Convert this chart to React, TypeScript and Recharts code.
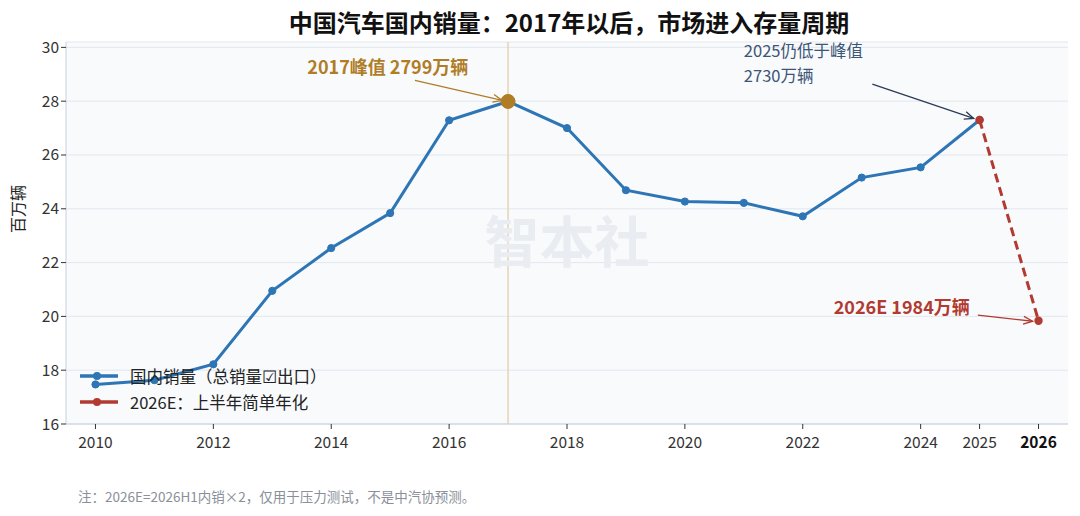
import React from 'react';
import {
  LineChart,
  Line,
  XAxis,
  YAxis,
  CartesianGrid,
  ReferenceLine,
  ReferenceDot,
} from 'recharts';

const years = [2010, 2011, 2012, 2013, 2014, 2015, 2016, 2017, 2018, 2019, 2020, 2021, 2022, 2023, 2024, 2025];
const domesticSales = [17.47, 17.63, 18.22, 20.95, 22.54, 23.84, 27.29, 27.99, 27.0, 24.69, 24.27, 24.22, 23.72, 25.16, 25.54, 27.3];
const estYears = [2025, 2026];
const estSales = [27.3, 19.84];
const peakYear = 2017;
const xTicks = [2010, 2012, 2014, 2016, 2018, 2020, 2022, 2024, 2025, 2026];
const yTicks = [16, 18, 20, 22, 24, 26, 28, 30];

const BLUE = '#2e75b6';
const RED = '#b23a30';
const GOLD = '#b07d26';
const SLATE = '#3d5577';
const FONT = '"Noto Sans CJK SC", "Noto Sans", sans-serif';

const data = [...years, 2026].map((y) => {
  const i = years.indexOf(y);
  const j = estYears.indexOf(y);
  return {
    year: y,
    sales: i >= 0 ? domesticSales[i] : null,
    est: j >= 0 ? estSales[j] : null,
  };
});

// open "->" arrow drawn between two data points
function arrowShape(color: string) {
  return (p: any) => {
    const { x1, y1, x2, y2 } = p;
    const a = Math.atan2(y2 - y1, x2 - x1);
    const L = 10;
    const s = 0.4;
    const ax1 = x2 - L * Math.cos(a - s);
    const ay1 = y2 - L * Math.sin(a - s);
    const ax2 = x2 - L * Math.cos(a + s);
    const ay2 = y2 - L * Math.sin(a + s);
    return (
      <g>
        <line x1={x1} y1={y1} x2={x2} y2={y2} stroke={color} strokeWidth={1.3} />
        <polyline points={`${ax1},${ay1} ${x2},${y2} ${ax2},${ay2}`} fill="none" stroke={color} strokeWidth={1.3} />
      </g>
    );
  };
}

function textShape(lines: string[], color: string, opts: any) {
  return (p: any) => (
    <text
      x={p.cx}
      y={p.cy}
      fill={color}
      fontSize={opts.size}
      fontWeight={opts.weight}
      textAnchor={opts.anchor}
      dominantBaseline="central"
      fontFamily={FONT}
    >
      {lines.map((l, k) => (
        <tspan key={k} x={p.cx} dy={k === 0 ? 0 : opts.lh}>
          {l}
        </tspan>
      ))}
    </text>
  );
}

function SalesDot(props: any) {
  const { cx, cy, payload } = props;
  if (cx == null || cy == null) return null;
  if (payload.year === peakYear) {
    return <circle cx={cx} cy={cy} r={7} fill={GOLD} stroke={GOLD} />;
  }
  return <circle cx={cx} cy={cy} r={3.6} fill={BLUE} stroke={BLUE} />;
}

function EstDot(props: any) {
  const { cx, cy } = props;
  if (cx == null || cy == null) return null;
  return <circle cx={cx} cy={cy} r={4.2} fill={RED} stroke="none" />;
}

function XTick(props: any) {
  const { x, y, payload } = props;
  const last = payload.value === 2026;
  return (
    <text x={x} y={y + 17} textAnchor="middle" fontSize={15.5} fill={last ? '#111' : '#333'} fontWeight={last ? 600 : 400} fontFamily={FONT}>
      {payload.value}
    </text>
  );
}

function LegendBox() {
  const items = [
    { color: BLUE, label: '国内销量（总销量☑出口）' },
    { color: RED, label: '2026E：上半年简单年化' },
  ];
  return (
    <div style={{ fontFamily: FONT, fontSize: 16.5, color: '#222' }}>
      {items.map((it) => (
        <div key={it.label} style={{ display: 'flex', alignItems: 'center', height: 26 }}>
          <svg width={42} height={12} style={{ marginRight: 10 }}>
            <line x1={2} y1={6} x2={40} y2={6} stroke={it.color} strokeWidth={3.5} />
            <circle cx={19} cy={6} r={4} fill={it.color} />
          </svg>
          <span>{it.label}</span>
        </div>
      ))}
    </div>
  );
}

export default function App() {
  return (
    <div style={{ position: 'absolute', left: 0, top: 0, width: 1080, height: 516, background: '#fff', fontFamily: FONT }}>
      <div style={{ position: 'absolute', left: 69, width: 1000, top: 4, textAlign: 'center', fontSize: 24, fontWeight: 700, color: '#111' }}>
        中国汽车国内销量：2017年以后，市场进入存量周期
      </div>
      <LineChart width={1080} height={516} data={data} margin={{ top: 42, right: 12, left: 0, bottom: 62 }}>
        <CartesianGrid vertical={false} stroke="#e2e7ef" strokeWidth={1} fill="#f8fafc" />
        <XAxis
          dataKey="year"
          type="number"
          domain={[2009.5, 2026.5]}
          ticks={xTicks}
          tick={<XTick />}
          stroke="#c6cfdc"
          tickLine={{ stroke: '#333' }}
          tickSize={5}
          height={30}
          allowDataOverflow
        />
        <YAxis
          domain={[16, 30.2]}
          ticks={yTicks}
          width={66}
          stroke="#c6cfdc"
          tickLine={{ stroke: '#333' }}
          tickSize={5}
          tick={{ fontSize: 15.5, fill: '#333', fontFamily: FONT }}
          allowDataOverflow
          label={{ value: '百万辆', angle: -90, position: 'insideLeft', offset: 18, style: { fontSize: 16, fill: '#222', fontFamily: FONT } }}
        />
        <ReferenceDot x={2018} y={22.9} r={0} shape={textShape(['智本社'], '#e9ecf1', { size: 55, weight: 700, anchor: 'middle' })} />
        <ReferenceLine x={peakYear} stroke="#e6d3b3" strokeWidth={1.5} />
        <Line
          dataKey="sales"
          stroke={BLUE}
          strokeWidth={3}
          dot={<SalesDot />}
          isAnimationActive={false}
          connectNulls={false}
        />
        <Line
          dataKey="est"
          stroke={RED}
          strokeWidth={3}
          strokeDasharray="9 5"
          dot={<EstDot />}
          isAnimationActive={false}
        />
        <ReferenceLine segment={[{ x: 2015.42, y: 28.77 }, { x: 2016.9, y: 28.03 }]} shape={arrowShape(GOLD)} />
        <ReferenceDot x={2014.96} y={29.29} r={0} shape={textShape(['2017峰值 2799万辆'], GOLD, { size: 18, weight: 700, anchor: 'middle' })} />
        <ReferenceLine segment={[{ x: 2023.18, y: 28.63 }, { x: 2024.9, y: 27.36 }]} shape={arrowShape('#2a3b55')} />
        <ReferenceDot x={2021.0} y={29.92} r={0} shape={textShape(['2025仍低于峰值', '2730万辆'], SLATE, { size: 16.5, weight: 400, anchor: 'start', lh: 25 })} />
        <ReferenceLine segment={[{ x: 2024.97, y: 20.05 }, { x: 2025.9, y: 19.82 }]} shape={arrowShape(RED)} />
        <ReferenceDot x={2023.68} y={20.38} r={0} shape={textShape(['2026E 1984万辆'], RED, { size: 18, weight: 700, anchor: 'middle' })} />
      </LineChart>
      <div style={{ position: 'absolute', left: 78, top: 363 }}>
        <LegendBox />
      </div>
      <div style={{ position: 'absolute', left: 78, top: 486, fontSize: 13.5, color: '#8a8f99' }}>
        注：2026E=2026H1内销×2，仅用于压力测试，不是中汽协预测。
      </div>
    </div>
  );
}
